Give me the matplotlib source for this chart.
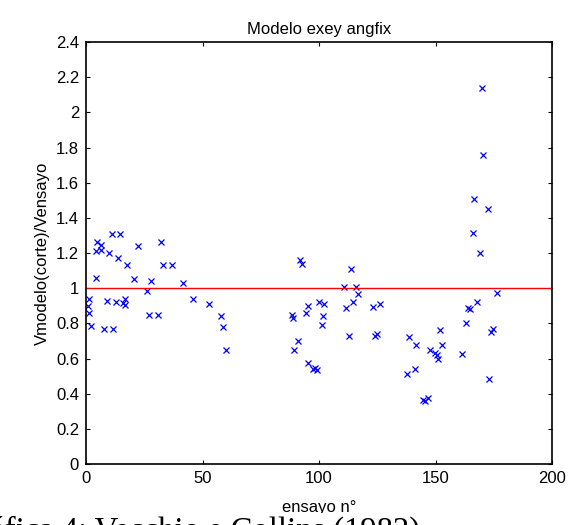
import numpy as np
import matplotlib
matplotlib.use('Agg')
from matplotlib import pyplot as plt
from matplotlib.ticker import FormatStrFormatter

# ensayo number and Vmodelo/Vensayo ratio
ensayo = [0.9, 1.3, 1.3, 2.1, 4.2, 4.3, 4.7, 6.4, 6.5, 7.9, 8.9, 10, 11, 11.7,
          12.9, 13.6, 14.6, 16, 16.7, 16.7, 17.7, 20.7, 22.2, 26, 27, 27.9, 31,
          32.2, 32.9, 36.8, 41.8, 46, 52.9, 57.8, 58.7, 60,
          88.3, 89, 89.3, 91.1, 91.8, 92.5, 94.4, 95.1, 95.4, 97.6, 98.3, 99,
          100.1, 101.2, 101.6, 102.3, 110.7, 111.6, 113, 113.7, 114.7, 115.9,
          116.9, 123, 124, 124.8, 126.2,
          137.6, 138.8, 141.2, 141.6, 144.5, 145.5, 146.9, 147.6, 149.8, 150.5,
          151.2, 151.9, 152.7, 161.5, 163.1, 164.1, 164.8, 166, 166.5, 167.7,
          169.1, 169.8, 170.5, 172.7, 173, 173.7, 174.8, 176.3]
ratio = [0.90, 0.94, 0.86, 0.785, 1.06, 1.21, 1.26, 1.245, 1.22, 0.77, 0.93, 1.2,
         1.31, 0.77, 0.92, 1.17, 1.31, 0.915, 0.94, 0.905, 1.13, 1.05, 1.24, 0.985,
         0.85, 1.04, 0.85, 1.26, 1.13, 1.13, 1.03, 0.94, 0.91, 0.84, 0.78, 0.65,
         0.85, 0.83, 0.65, 0.70, 1.16, 1.14, 0.86, 0.90, 0.575, 0.54, 0.545, 0.535,
         0.92, 0.79, 0.84, 0.91, 1.005, 0.885, 0.73, 1.11, 0.92, 1.005,
         0.97, 0.895, 0.73, 0.74, 0.91,
         0.515, 0.725, 0.54, 0.68, 0.364, 0.36, 0.373, 0.65, 0.63, 0.62,
         0.60, 0.76, 0.68, 0.625, 0.80, 0.885, 0.88, 1.315, 1.505, 0.92,
         1.20, 2.14, 1.76, 1.45, 0.485, 0.75, 0.77, 0.975]

yticks = [0, 0.2, 0.4, 0.6, 0.8, 1, 1.2, 1.4, 1.6, 1.8, 2, 2.2, 2.4]
xticks = [0, 50, 100, 150, 200]

plt.rcParams['font.family'] = ['Liberation Sans', 'DejaVu Sans']

fig = plt.figure(figsize=(5.83, 5.25), dpi=100)
ax = fig.add_axes([0.1475, 0.116, 0.7995, 0.804])

ax.plot(ensayo, ratio, 'x', color='#0000ff', markersize=5, markeredgewidth=0.9)
ax.plot([0, 200], [1, 1], color='#ff0000', linewidth=1)

ax.set_xlim(0, 200)
ax.set_ylim(0, 2.4)
ax.set_xticks(xticks)
ax.set_yticks(yticks)
ax.yaxis.set_major_formatter(FormatStrFormatter('%g'))
ax.tick_params(direction='in', length=3, width=0.8, top=True, right=True,
               labelsize=12, pad=5)
for s in ax.spines.values():
    s.set_linewidth(1.2)

ax.set_title('Modelo exey angfix', fontsize=12, pad=6)
ax.set_xlabel('ensayo n°', fontsize=12, labelpad=10)
ax.set_ylabel('Vmodelo(corte)/Vensayo', fontsize=12, labelpad=4)

# caption from the source page, cut off by the bottom edge
fig.patches.append(plt.Rectangle((0, 0), 1, 0.022, transform=fig.transFigure,
                                 facecolor='white', edgecolor='none', zorder=5))
fig.text(420 / 583, -0.013, 'Gráfica 4: Vecchio e Collins (1982)', ha='right',
         va='center', fontsize=23.5, family='Liberation Serif', zorder=6)

fig.savefig('out.png', dpi=100)
